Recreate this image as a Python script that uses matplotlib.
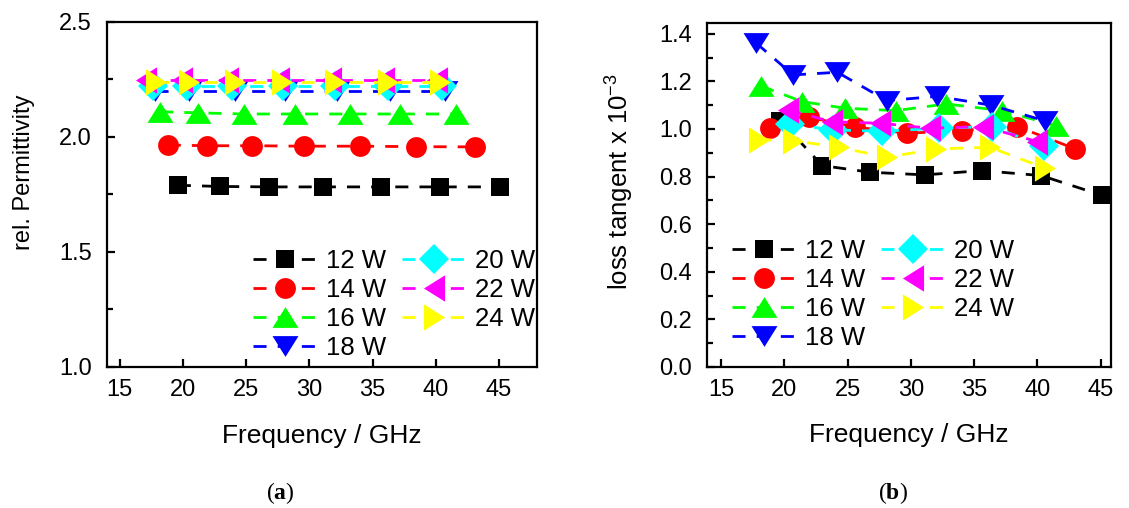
import matplotlib
matplotlib.use("Agg")
import matplotlib.pyplot as plt
import numpy as np

plt.rcParams['font.family'] = ['Liberation Sans', 'DejaVu Sans']
plt.rcParams['mathtext.fontset'] = 'custom'
plt.rcParams['mathtext.rm'] = 'Liberation Sans'
plt.rcParams['mathtext.it'] = 'Liberation Sans:italic'
plt.rcParams['mathtext.bf'] = 'Liberation Serif:bold'

powers = ['12 W', '14 W', '16 W', '18 W', '20 W', '22 W', '24 W']
colors = ['#000000', '#ff0000', '#00ff00', '#0000ff', '#00ffff', '#ff00ff', '#ffff00']

# (a) relative permittivity
freq_a = [
    [19.6, 22.9, 26.8, 31.1, 35.7, 40.3, 45.1],
    [18.8, 21.9, 25.5, 29.6, 34.0, 38.4, 43.1],
    [18.2, 21.2, 24.8, 28.9, 33.2, 37.2, 41.6],
    [17.8, 20.5, 24.1, 28.1, 32.2, 36.4, 40.7],
    [17.6, 20.3, 23.9, 27.9, 32.0, 36.2, 40.5],
    [17.1, 19.9, 23.6, 27.6, 31.7, 35.9, 40.1],
    [17.9, 20.45, 24.1, 27.8, 32.0, 36.2, 40.3],
]
eps_a = [
    [1.79, 1.785, 1.783, 1.783, 1.783, 1.783, 1.783],
    [1.965, 1.962, 1.962, 1.96, 1.96, 1.958, 1.957],
    [2.11, 2.105, 2.1, 2.1, 2.1, 2.1, 2.1],
    [2.2, 2.2, 2.2, 2.2, 2.2, 2.2, 2.2],
    [2.222, 2.222, 2.222, 2.222, 2.222, 2.222, 2.222],
    [2.247, 2.247, 2.247, 2.247, 2.247, 2.247, 2.247],
    [2.24, 2.24, 2.24, 2.24, 2.24, 2.24, 2.24],
]

# (b) loss tangent x 1e-3
freq_b = [
    [19.7, 23.0, 26.8, 31.1, 35.6, 40.3, 45.1],
    [18.9, 21.95, 25.6, 29.7, 34.0, 38.4, 43.0],
    [18.2, 21.4, 24.8, 28.8, 32.8, 37.2, 41.5],
    [17.8, 20.7, 24.2, 28.1, 32.1, 36.3, 40.6],
    [20.45, 23.85, 27.7, 32.2, 36.4, 40.5],
    [20.3, 23.75, 27.6, 31.5, 35.7, 40.0],
    [18.0, 20.7, 24.3, 28.1, 32.0, 36.25, 40.6],
]
tand_b = [
    [1.035, 0.846, 0.818, 0.807, 0.825, 0.804, 0.721],
    [1.003, 1.049, 1.008, 0.982, 0.993, 1.01, 0.916],
    [1.18, 1.115, 1.087, 1.077, 1.105, 1.077, 1.013],
    [1.36, 1.227, 1.238, 1.119, 1.137, 1.1, 1.034],
    [1.02, 0.996, 0.99, 1.003, 1.01, 0.927],
    [1.08, 1.03, 1.024, 1.003, 1.01, 0.947],
    [0.955, 0.951, 0.923, 0.881, 0.916, 0.923, 0.835],
]

tri_up = [(-1, -0.8), (1, -0.8), (0, 0.8), (-1, -0.8)]
tri_down = [(-1, 0.8), (1, 0.8), (0, -0.8), (-1, 0.8)]
tri_left = [(0.8, -1), (0.8, 1), (-0.8, 0), (0.8, -1)]
tri_right = [(-0.8, -1), (-0.8, 1), (0.8, 0), (-0.8, -1)]
markers = ['s', 'o', tri_up, tri_down, 'D', tri_left, tri_right]
msizes = [13.5, 15, 18.7, 18.7, 15, 19, 19]

fig = plt.figure(figsize=(11.29, 5.08), dpi=100)
ax1 = fig.add_axes([0.0948, 0.2776, 0.3808, 0.6791])
ax2 = fig.add_axes([0.6262, 0.2776, 0.3578, 0.6771])


def draw(ax, freqs, vals):
    for f, v, c, m, ms, lab in zip(freqs, vals, colors, markers, msizes, powers):
        ax.plot(f, v, color=c, marker=m, markersize=ms, markeredgewidth=0,
                linestyle='--', dashes=(4.7, 4), linewidth=2, label=lab)


draw(ax1, freq_a, eps_a)
draw(ax2, freq_b, tand_b)

for ax in (ax1, ax2):
    for s in ax.spines.values():
        s.set_linewidth(1.6)
    ax.set_xticks([15, 20, 25, 30, 35, 40, 45])
    ax.tick_params(axis='both', which='both', direction='in', labelsize=17,
                   top=False, right=False, width=1.6)
    ax.tick_params(axis='both', which='major', length=6)
    ax.tick_params(axis='both', which='minor', length=4)
    ax.tick_params(axis='y', pad=11)
    ax.tick_params(axis='x', pad=9)
    ax.set_xlabel('Frequency / GHz', fontsize=19)
    ax.xaxis.set_label_coords(0.5, -0.164)

ax1.set_xlim(14, 48)
ax1.set_ylim(1.0, 2.5)
ax1.set_yticks([1.0, 1.5, 2.0, 2.5])
ax1.set_yticks([1.25, 1.75, 2.25], minor=True)
ax1.set_ylabel('rel. Permittivity', fontsize=17)
ax1.yaxis.set_label_coords(-0.167, 0.565)

ax2.set_xlim(13.9, 45.8)
ax2.set_ylim(0, 1.445)
ax2.set_yticks(np.arange(0, 1.41, 0.2))
ax2.set_yticks(np.arange(0.1, 1.41, 0.2), minor=True)
ax2.set_ylabel('loss tangent x 10$^{-3}$', fontsize=18.5)
ax2.yaxis.set_label_coords(-0.175, 0.538)

leg_kw = dict(ncol=2, frameon=False, fontsize=18.5, handlelength=2.5,
              handletextpad=0.35, columnspacing=0.6, labelspacing=0.2,
              borderpad=0, borderaxespad=0, loc='upper left')
ax1.legend(bbox_to_anchor=(0.34, 0.343), **leg_kw)
ax2.legend(bbox_to_anchor=(0.062, 0.373), **leg_kw)

fig.text(0.248, 0.03, r'($\mathbf{a}$)', fontsize=17, family='Liberation Serif',
         ha='center', va='center')
fig.text(0.791, 0.03, r'($\mathbf{b}$)', fontsize=17, family='Liberation Serif',
         ha='center', va='center')

fig.savefig('out.png', dpi=100)
